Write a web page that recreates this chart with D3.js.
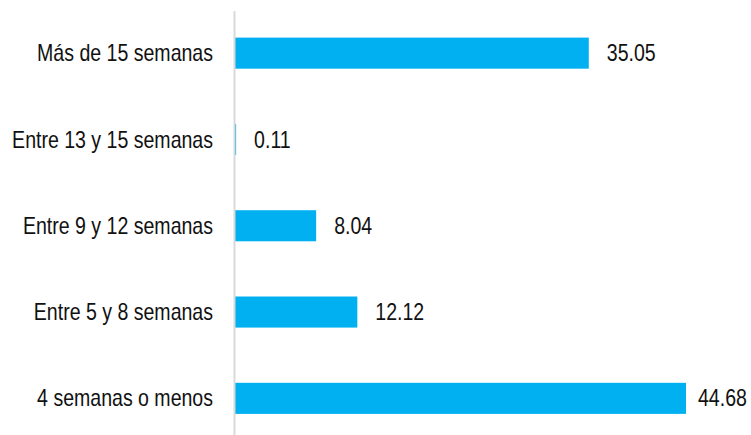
<!DOCTYPE html>
<html>
<head>
<meta charset="utf-8">
<script src="https://cdn.jsdelivr.net/npm/d3@7"></script>
<style>
  body { margin: 0; background: #fff; }
  text { font-family: "Liberation Sans", Arial, sans-serif; fill: #111; }
</style>
</head>
<body>
<svg id="chart"></svg>
<script>
var categories = ["Más de 15 semanas", "Entre 13 y 15 semanas", "Entre 9 y 12 semanas", "Entre 5 y 8 semanas", "4 semanas o menos"];
var values = [35.05, 0.11, 8.04, 12.12, 44.68];
var valueLabels = ["35.05", "0.11", "8.04", "12.12", "44.68"];

var width = 751, height = 435;
var squeeze = 0.85; // narrow-looking font

var svg = d3.select('#chart')
  .attr('width', width)
  .attr('height', height);

var x = d3.scaleLinear()
  .domain([0, 44.68])
  .range([235, 686]);

var y = d3.scaleBand()
  .domain(categories)
  .range([10, 441.5])
  .paddingInner(0.64)
  .paddingOuter(0.32);

var data = categories.map((c, i) => ({ cat: c, v: values[i], label: valueLabels[i] }));

svg.append('g')
  .selectAll('rect')
  .data(data)
  .enter()
  .append('rect')
  .attr('x', x(0))
  .attr('y', d => y(d.cat))
  .attr('width', d => x(d.v) - x(0))
  .attr('height', y.bandwidth())
  .attr('fill', '#00b0f0');

// axis line
svg.append('line')
  .attr('x1', 234.5).attr('x2', 234.5)
  .attr('y1', 11).attr('y2', height)
  .attr('stroke', '#d9d9d9')
  .attr('stroke-width', 2);

svg.append('g')
  .selectAll('text')
  .data(data)
  .enter()
  .append('text')
  .attr('transform', d => `translate(213, ${y(d.cat) + y.bandwidth() / 2}) scale(${squeeze}, 1)`)
  .attr('dy', '0.35em')
  .attr('text-anchor', 'end')
  .style('font-size', '23px')
  .text(d => d.cat);

svg.append('g')
  .selectAll('text')
  .data(data)
  .enter()
  .append('text')
  .attr('transform', d => `translate(${x(d.v) + (d.v > 40 ? 12 : 18)}, ${y(d.cat) + y.bandwidth() / 2}) scale(${squeeze}, 1)`)
  .attr('dy', '0.35em')
  .style('font-size', '23px')
  .text(d => d.label);
</script>
</body>
</html>
